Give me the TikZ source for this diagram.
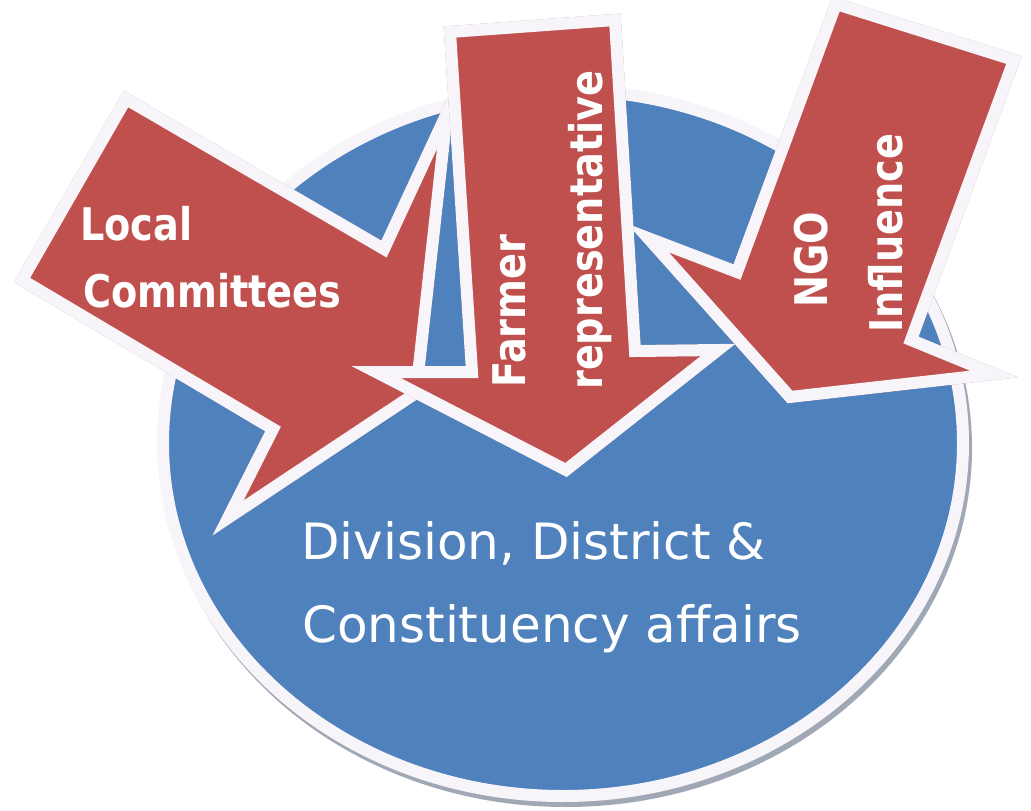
\documentclass[tikz,border=0pt]{standalone}
\usepackage{fontspec}
\usepackage{graphicx}
\newfontfamily\djv{DejaVu Sans}
\definecolor{redF}{HTML}{C0504D}
\definecolor{blueF}{HTML}{4F81BD}
\definecolor{rimW}{RGB}{248,245,250}
\definecolor{ellShadow}{RGB}{160,168,182}
\definecolor{arrShadow}{RGB}{90,10,20}
\tikzset{
  arrowbody/.style={fill=redF, draw=rimW, line width=12pt, line join=miter, miter limit=12},
  arrowshadow/.style={draw=arrShadow, draw opacity=0.4, line width=12pt, line join=miter, miter limit=12, shift={(3,5)}},
  lbl/.style={text=white, inner sep=0pt, font=\djv\bfseries\fontsize{45}{54}\selectfont},
  maintext/.style={text=white, inner sep=0pt, font=\djv\fontsize{50}{60}\selectfont},
}
\begin{document}
\begin{tikzpicture}[x=1pt,y=-1pt]
\useasboundingbox (0,0) rectangle (1031,811);
% ellipse (target circle)
\coordinate (ec) at (563,443);
\fill[ellShadow] ([shift={(3,5)}]ec) ellipse [x radius=406pt, y radius=359pt];
\filldraw[fill=blueF, draw=rimW, line width=12pt] (ec) ellipse [x radius=400pt, y radius=353pt];
% Local Committees arrow
\coordinate (L1) at (126,99);
\coordinate (L2) at (384,249);
\coordinate (L3) at (447,113);
\coordinate (L4) at (416,393);
\coordinate (L5) at (228,518);
\coordinate (L6) at (273,429);
\coordinate (L7) at (22,280);
\draw[arrowshadow] (L1) -- (L2) -- (L3) -- (L4) -- (L5) -- (L6) -- (L7) -- cycle;
\filldraw[arrowbody] (L1) -- (L2) -- (L3) -- (L4) -- (L5) -- (L6) -- (L7) -- cycle;
% NGO arrow
\coordinate (N1) at (836,4);
\coordinate (N2) at (1014,60);
\coordinate (N3) at (911,340);
\coordinate (N4) at (994,374);
\coordinate (N5) at (790,397);
\coordinate (N6) at (648,238);
\coordinate (N7) at (737,272);
\draw[arrowshadow] (N1) -- (N2) -- (N3) -- (N4) -- (N5) -- (N6) -- (N7) -- cycle;
\filldraw[arrowbody] (N1) -- (N2) -- (N3) -- (N4) -- (N5) -- (N6) -- (N7) -- cycle;
% Farmer representative arrow
\coordinate (F1) at (450,32);
\coordinate (F2) at (615,20);
\coordinate (F3) at (635,351);
\coordinate (F4) at (718,350);
\coordinate (F5) at (566,470);
\coordinate (F6) at (376,372);
\coordinate (F7) at (472,372);
\draw[arrowshadow] (F1) -- (F2) -- (F3) -- (F4) -- (F5) -- (F6) -- (F7) -- cycle;
\filldraw[arrowbody] (F1) -- (F2) -- (F3) -- (F4) -- (F5) -- (F6) -- (F7) -- cycle;
% labels
\node[lbl, anchor=base west] (lc1) at (80,240) {\scalebox{0.85}[1]{Local}};
\node[lbl, anchor=base west] (lc2) at (83,307) {\scalebox{0.85}[1]{Committees}};
\node[lbl, rotate=90, anchor=base west] (fr1) at (525,388) {\scalebox{0.85}[1]{Farmer}};
\node[lbl, rotate=90, anchor=base west] (fr2) at (602,390) {\scalebox{0.85}[1]{representative}};
\node[lbl, rotate=90, anchor=base west] (ng1) at (827,308) {\scalebox{0.85}[1]{NGO}};
\node[lbl, rotate=90, anchor=base west] (ng2) at (902,333) {\scalebox{0.85}[1]{Influence}};
\node[maintext, anchor=base west] (dv1) at (301,559) {Division, District \&};
\node[maintext, anchor=base west] (dv2) at (302,642) {Constituency affairs};
\end{tikzpicture}
\end{document}
